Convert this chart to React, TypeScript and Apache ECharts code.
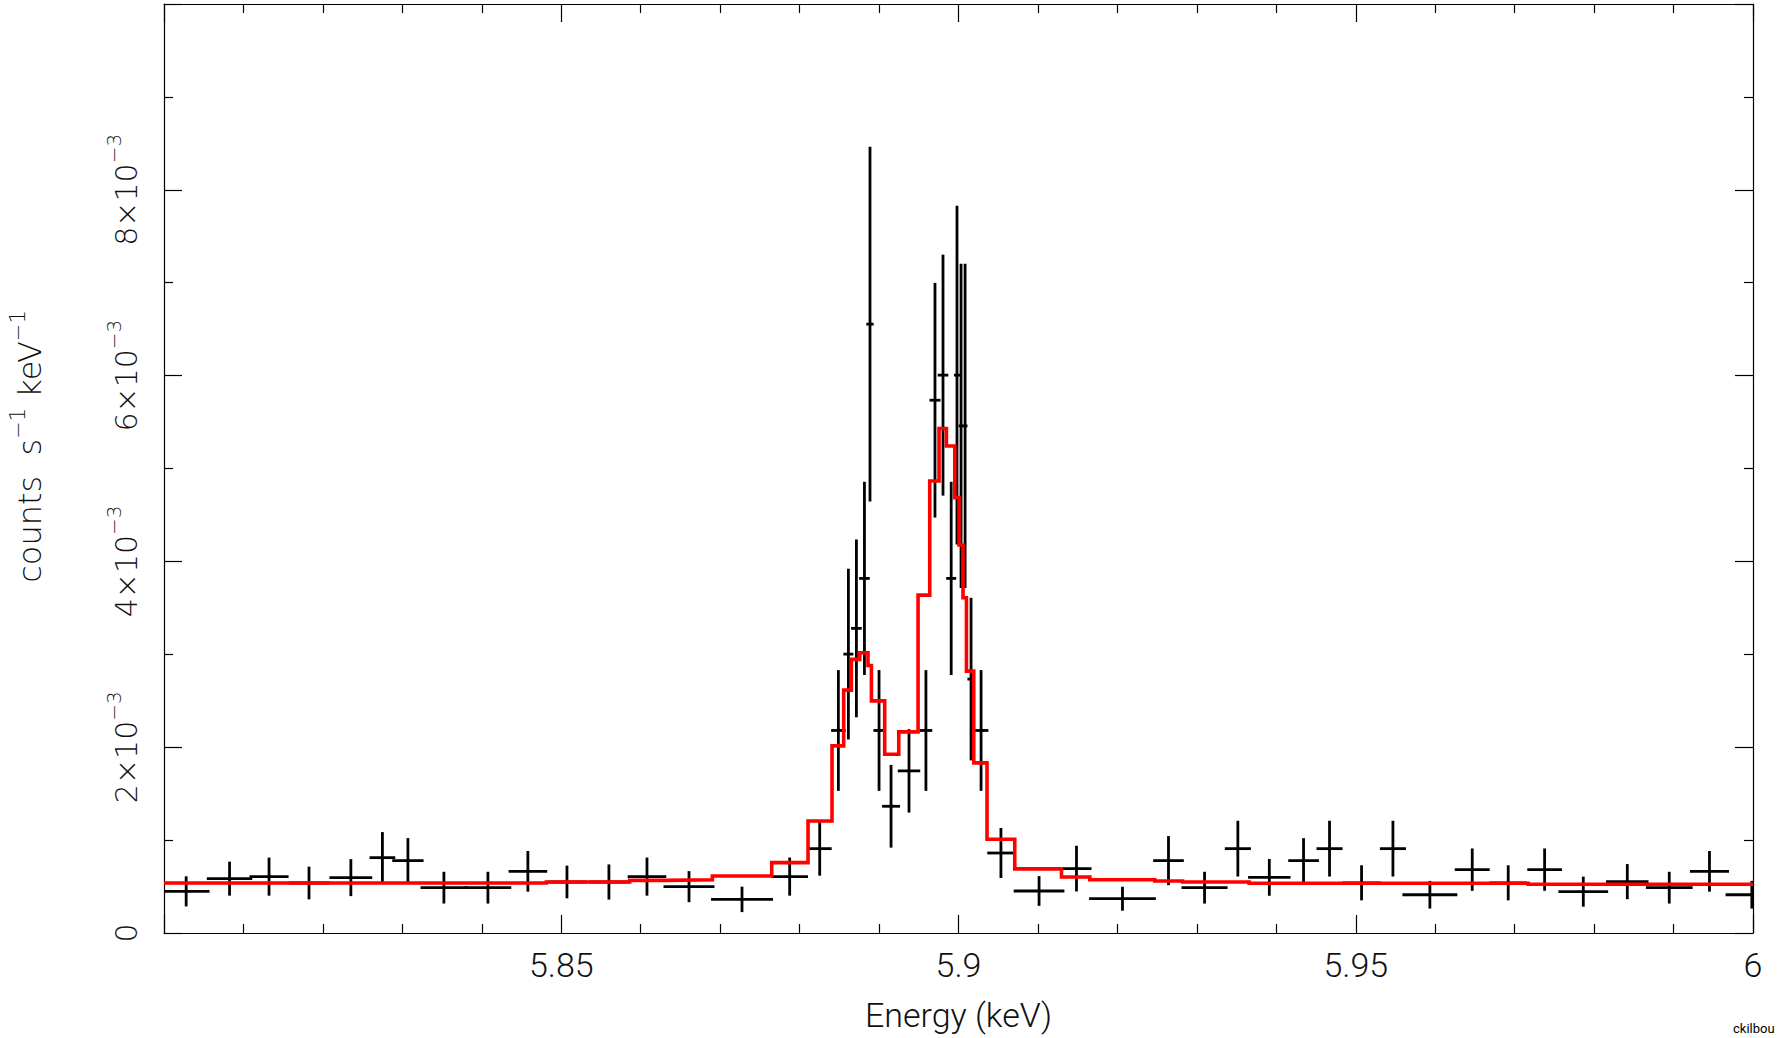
import React, { useEffect, useRef } from "react";
import * as echarts from "echarts";

// Axis ranges
const X_MIN = 5.8;
const X_MAX = 6.0;
const X_INTERVAL = 0.05;
const Y_MIN = 0;
const Y_MAX = 0.01;
const Y_INTERVAL = 0.002;

// Observed spectrum: bin centre (keV), rate (counts s^-1 keV^-1), bin half-width (keV), 1-sigma error
const dataEnergy = [
  5.80279, 5.80825, 5.81322, 5.81825, 5.82352, 5.82749, 5.8307, 5.83523, 5.84077, 5.8458,
  5.85072, 5.856, 5.86079, 5.86608, 5.87275, 5.87875, 5.88253, 5.88488, 5.88614, 5.88715,
  5.88816, 5.88886, 5.89, 5.89151, 5.89377, 5.8959, 5.89704, 5.89805, 5.89908, 5.89981,
  5.90032, 5.90083, 5.90158, 5.90284, 5.90534, 5.91014, 5.91485, 5.92064, 5.92643, 5.93097,
  5.93516, 5.93912, 5.94343, 5.9467, 5.95073, 5.95468, 5.95933, 5.96466, 5.96919, 5.97377,
  5.97864, 5.98418, 5.98946, 5.99452, 5.99985,
];
const dataRate = [
  0.448e-3, 0.585e-3, 0.607e-3, 0.538e-3, 0.596e-3, 0.811e-3, 0.779e-3, 0.488e-3, 0.488e-3, 0.664e-3,
  0.549e-3, 0.549e-3, 0.607e-3, 0.499e-3, 0.362e-3, 0.607e-3, 0.908e-3, 2.18e-3, 3.002e-3, 3.279e-3,
  3.817e-3, 6.554e-3, 2.18e-3, 1.364e-3, 1.745e-3, 2.18e-3, 5.735e-3, 6.005e-3, 3.817e-3, 6.005e-3,
  5.459e-3, 5.459e-3, 2.733e-3, 2.18e-3, 0.861e-3, 0.452e-3, 0.693e-3, 0.369e-3, 0.779e-3, 0.488e-3,
  0.908e-3, 0.599e-3, 0.779e-3, 0.908e-3, 0.54e-3, 0.908e-3, 0.412e-3, 0.682e-3, 0.54e-3, 0.682e-3,
  0.445e-3, 0.553e-3, 0.488e-3, 0.664e-3, 0.412e-3,
];
const dataHalfWidth = [
  0.00294, 0.00286, 0.00246, 0.00258, 0.00269, 0.00162, 0.00197, 0.00294, 0.00294, 0.00243,
  0.00247, 0.00252, 0.00243, 0.00321, 0.0039, 0.00231, 0.00151, 0.00092, 0.00063, 0.00067,
  0.00067, 0.00046, 0.00071, 0.00113, 0.00141, 0.0008, 0.00069, 0.00067, 0.00063, 0.00038,
  0.0003, 0.0003, 0.00046, 0.00092, 0.00172, 0.00319, 0.00189, 0.0042, 0.00193, 0.0029,
  0.00164, 0.00267, 0.00193, 0.00164, 0.0024, 0.00164, 0.00346, 0.0022, 0.00233, 0.00218,
  0.00313, 0.00267, 0.00294, 0.00246, 0.0033,
];
const dataError = [
  0.162e-3, 0.183e-3, 0.205e-3, 0.176e-3, 0.199e-3, 0.275e-3, 0.242e-3, 0.171e-3, 0.171e-3, 0.219e-3,
  0.176e-3, 0.189e-3, 0.205e-3, 0.167e-3, 0.137e-3, 0.205e-3, 0.291e-3, 0.65e-3, 0.919e-3, 0.957e-3,
  1.04e-3, 1.91e-3, 0.65e-3, 0.445e-3, 0.449e-3, 0.65e-3, 1.263e-3, 1.297e-3, 1.04e-3, 1.824e-3,
  1.745e-3, 1.745e-3, 0.875e-3, 0.65e-3, 0.269e-3, 0.16e-3, 0.246e-3, 0.129e-3, 0.264e-3, 0.171e-3,
  0.3e-3, 0.198e-3, 0.242e-3, 0.3e-3, 0.189e-3, 0.3e-3, 0.149e-3, 0.228e-3, 0.189e-3, 0.228e-3,
  0.162e-3, 0.189e-3, 0.171e-3, 0.219e-3, 0.149e-3,
];

// Folded model: step edges (keV) and level of each step
const modelEdges = [
  5.8, 5.84812, 5.85861, 5.86314, 5.86902, 5.87649, 5.88106, 5.88408, 5.88555, 5.88652,
  5.88757, 5.88861, 5.88904, 5.89071, 5.89248, 5.89491, 5.89638, 5.89755, 5.89848, 5.89953,
  5.90007, 5.90057, 5.901, 5.90192, 5.90359, 5.90708, 5.91296, 5.91653, 5.92471, 5.9282,
  5.93658, 5.97171, 6.0,
];
const modelLevels = [
  0.538e-3, 0.549e-3, 0.567e-3, 0.574e-3, 0.613e-3, 0.757e-3, 1.206e-3, 2.014e-3, 2.614e-3, 2.945e-3,
  3.016e-3, 2.88e-3, 2.499e-3, 1.924e-3, 2.165e-3, 3.637e-3, 4.866e-3, 5.43e-3, 5.243e-3, 4.686e-3,
  4.176e-3, 3.609e-3, 2.819e-3, 1.831e-3, 1.009e-3, 0.69e-3, 0.602e-3, 0.574e-3, 0.559e-3, 0.549e-3,
  0.535e-3, 0.524e-3,
];

const FONT = "Roboto, 'DejaVu Sans', sans-serif";
const WIDE_FONT = "'DejaVu Sans', Roboto, sans-serif";
const TEXT_COLOR = "#111";

function buildOption(): any {
  const crosses = dataEnergy.map((e, i) => [e, dataRate[i], dataHalfWidth[i], dataError[i]]);
  const modelPts: number[][] = [];
  modelLevels.forEach((lvl, i) => {
    modelPts.push([modelEdges[i], lvl]);
    modelPts.push([modelEdges[i + 1], lvl]);
  });

  const axisLine = { show: true, onZero: false, lineStyle: { color: "#000", width: 1.2 } };
  const axisTick = { show: true, inside: true, length: 18, lineStyle: { color: "#000", width: 1.2 } };
  const minorTickBase = { show: true, length: 9, lineStyle: { color: "#000", width: 1.2 } };

  const yLabelFormatter = (v: number) => {
    const m = Math.round(v * 1000);
    if (m === 0) return "{main|0}";
    return `{main|${m}×10}{sup|−3}`;
  };

  const yRich = {
    main: { fontSize: 30, fontFamily: WIDE_FONT, fontWeight: 200, color: TEXT_COLOR, lineHeight: 44 },
    sup: { fontSize: 20, fontFamily: WIDE_FONT, fontWeight: 200, color: TEXT_COLOR, verticalAlign: "top", lineHeight: 22 },
  };

  return {
    animation: false,
    backgroundColor: "#fff",
    grid: { left: 164, right: 26, top: 4, bottom: 105, containLabel: false, outerBoundsMode: "none" },
    xAxis: [
      {
        type: "value",
        position: "bottom",
        min: X_MIN,
        max: X_MAX,
        interval: X_INTERVAL,
        minorTick: { ...minorTickBase, splitNumber: 5 },
        axisLine,
        axisTick,
        splitLine: { show: false },
        axisLabel: {
          show: true,
          showMinLabel: false,
          margin: 15,
          fontSize: 34,
          fontFamily: FONT,
          fontWeight: 300,
          color: TEXT_COLOR,
        },
        name: "Energy (keV)",
        nameLocation: "middle",
        nameGap: 65,
        nameTextStyle: { fontSize: 34, fontFamily: FONT, fontWeight: 300, color: TEXT_COLOR },
      },
      {
        type: "value",
        position: "top",
        min: X_MIN,
        max: X_MAX,
        interval: X_INTERVAL,
        minorTick: { ...minorTickBase, splitNumber: 5 },
        axisLine,
        axisTick,
        splitLine: { show: false },
        axisLabel: { show: false },
      },
    ],
    yAxis: [
      {
        type: "value",
        position: "left",
        min: Y_MIN,
        max: Y_MAX,
        interval: Y_INTERVAL,
        minorTick: { ...minorTickBase, splitNumber: 2 },
        axisLine,
        axisTick,
        splitLine: { show: false },
        axisLabel: {
          show: true,
          showMaxLabel: false,
          rotate: 90,
          margin: 16,
          formatter: yLabelFormatter,
          rich: yRich,
        },
        name: "{main|counts  s}{sup|−1}{main| keV}{sup|−1}",
        nameLocation: "middle",
        nameGap: 111,
        nameTextStyle: {
          padding: [0, 0, 0, 44],
          rich: {
            main: { fontSize: 32, fontFamily: WIDE_FONT, fontWeight: 200, color: TEXT_COLOR, lineHeight: 46 },
            sup: { fontSize: 21, fontFamily: WIDE_FONT, fontWeight: 200, color: TEXT_COLOR, verticalAlign: "top", lineHeight: 22 },
          },
        },
      },
      {
        type: "value",
        position: "right",
        min: Y_MIN,
        max: Y_MAX,
        interval: Y_INTERVAL,
        minorTick: { ...minorTickBase, splitNumber: 2 },
        axisLine,
        axisTick,
        splitLine: { show: false },
        axisLabel: { show: false },
      },
    ],
    graphic: [
      {
        type: "text",
        left: 1733,
        top: 1022,
        style: { text: "ckilbou", fontSize: 13, fontFamily: FONT, fill: "#000" },
      },
    ],
    series: [
      {
        type: "custom",
        name: "data",
        xAxisIndex: 0,
        yAxisIndex: 0,
        clip: true,
        z: 2,
        encode: { x: 0, y: 1 },
        data: crosses,
        renderItem: (params: any, api: any) => {
          const e = api.value(0);
          const v = api.value(1);
          const hw = api.value(2);
          const err = api.value(3);
          const l = api.coord([e - hw, v]);
          const r = api.coord([e + hw, v]);
          const t = api.coord([e, v + err]);
          const b = api.coord([e, v - err]);
          const style = { stroke: "#000", lineWidth: 2.8, lineCap: "butt" };
          return {
            type: "group",
            children: [
              { type: "line", shape: { x1: l[0], y1: l[1], x2: r[0], y2: r[1] }, style },
              { type: "line", shape: { x1: t[0], y1: t[1], x2: b[0], y2: b[1] }, style },
            ],
          };
        },
      },
      {
        type: "line",
        name: "model",
        xAxisIndex: 0,
        yAxisIndex: 0,
        data: modelPts,
        showSymbol: false,
        symbol: "none",
        clip: true,
        z: 3,
        lineStyle: { color: "#ff0000", width: 3.6, join: "miter", cap: "butt" },
      },
    ],
  };
}

export default function App() {
  const ref = useRef<HTMLDivElement>(null);
  useEffect(() => {
    if (!ref.current) return;
    const chart = echarts.init(ref.current, undefined, { renderer: "svg" });
    chart.setOption(buildOption());
    return () => chart.dispose();
  }, []);
  return (
    <div
      ref={ref}
      style={{ position: "fixed", left: 0, top: 0, width: 1779, height: 1038, background: "#fff" }}
    />
  );
}
